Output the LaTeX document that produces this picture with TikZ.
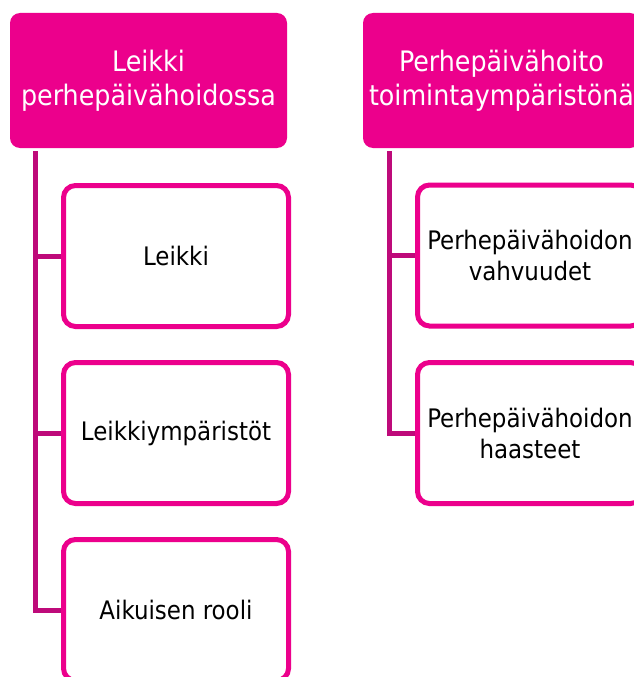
\documentclass[tikz,border=0pt]{standalone}
\usepackage{fontspec}
\setmainfont{DejaVu Sans Condensed}
\usetikzlibrary{backgrounds}
\definecolor{mag}{HTML}{EC008C}
\definecolor{connc}{HTML}{BE0A7A}
\begin{document}
\begin{tikzpicture}[x=1pt,y=-1pt,
  parentbox/.style={fill=mag, rounded corners=10pt, minimum width=277pt, minimum height=135pt,
    text=white, align=center, font=\fontsize{28.2}{34}\selectfont, inner sep=0pt},
  childbox/.style={draw=mag, line width=5pt, fill=white, rounded corners=12pt,
    minimum width=225pt, minimum height=141pt, align=center,
    font=\fontsize{25.5}{31}\selectfont, inner sep=0pt},
  conn/.style={draw=connc, line width=5pt}]
\useasboundingbox (0,0) rectangle (634,677);
\node[parentbox] (p1) at (148.5,80.5) {Leikki\\perhepäivähoidossa};
\node[parentbox] (p2) at (501.5,80.5) {Perhepäivähoito\\toimintaympäristönä};
\node[childbox] (c1) at (176,256) {Leikki};
\node[childbox] (c2) at (176,433) {Leikkiympäristöt};
\node[childbox] (c3) at (176,610) {Aikuisen rooli};
\node[childbox] (d1) at (530,255.5) {Perhepäivähoidon\\vahvuudet};
\node[childbox] (d2) at (530,433) {Perhepäivähoidon\\haasteet};
\coordinate (a1) at (35,151);
\coordinate (a2) at (389,151);
\begin{scope}[on background layer]
\fill[white] (0,0) rectangle (634,677);
\draw[conn] (a1) |- (c1.west);
\draw[conn] (a1) |- (c2.west);
\draw[conn] (a1) |- (c3.west);
\draw[conn] (a2) |- (d1.west);
\draw[conn] (a2) |- (d2.west);
\end{scope}
\end{tikzpicture}
\end{document}
